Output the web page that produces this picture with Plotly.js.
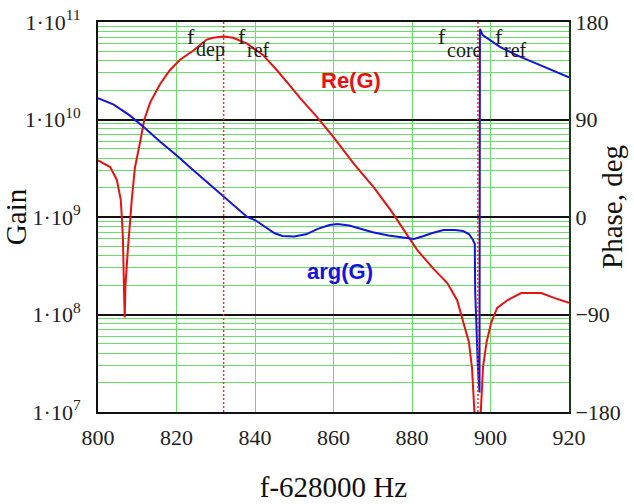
<!DOCTYPE html>
<html>
<head>
<meta charset="utf-8">
<script src="https://cdn.plot.ly/plotly-3.0.1.min.js"></script>
<style>html,body{margin:0;padding:0;background:#fff;}#chart{width:634px;height:504px;}</style>
</head>
<body>
<div id="chart"></div>
<script>
// Re(G) gain curve (left log axis)
const reFreq = [800, 803.1, 804.8, 805.8, 806.1, 806.35, 806.6, 806.8, 807.0, 807.3, 807.6, 808.6, 809.4, 810.7, 811.8, 813.3, 815.8, 818.3, 820.9, 824.3, 827.7, 829.3, 832, 834.4, 838, 842, 845.6, 849, 851.5, 855.7, 860, 865.2, 870.3, 874.6, 878, 881.3, 885.6, 889, 891.5, 893.2, 894.5, 895.3, 895.9, 896.6, 897.4, 898.1, 899, 900.2, 901.7, 904.3, 907.8, 912.9, 916.2, 920];
const reGain = [3.8e9, 3.25e9, 2.4e9, 1.5e9, 9.5e8, 6.0e8, 2.0e8, 9.3e7, 2.0e8, 3.2e8, 4.6e8, 1.5e9, 3.2e9, 5.8e9, 1.0e10, 1.5e10, 2.3e10, 3.2e10, 4.1e10, 5.1e10, 6.6e10, 6.9e10, 7.1e10, 6.9e10, 6.0e10, 4.6e10, 3.2e10, 2.2e10, 1.66e10, 1.07e10, 6.6e9, 3.5e9, 2.0e9, 1.17e9, 7.4e8, 4.6e8, 2.9e8, 2.1e8, 1.4e8, 8.1e7, 5.2e7, 2.8e7, 1.0e7, 3.0e6, 8e6, 2.9e7, 5.2e7, 8.3e7, 1.17e8, 1.4e8, 1.66e8, 1.66e8, 1.48e8, 1.32e8];

// arg(G) phase curve (right axis, degrees)
const argFreq = [800, 804, 808, 812, 816, 820, 824, 828, 832, 836, 838, 840, 842, 845, 847, 850, 853, 856, 859, 861, 864, 867, 870, 874, 878, 880.5, 883, 885, 888, 891, 893, 894.5, 895.5, 896.0, 896.1, 896.4, 896.8, 897.2, 897.3, 898, 899.9, 902.4, 907.5, 913.4, 920];
const argPhase = [109.6, 103.8, 94, 82, 69, 57, 44, 31.4, 18.5, 6.5, 0, -2.8, -8, -15, -17.5, -18, -16, -11, -7.4, -6.5, -7.8, -11, -14, -17, -19.4, -20.3, -17.5, -15, -12, -12, -13, -15.7, -21, -25, -69, -100, -140, -162, 173.5, 168, 163.4, 157, 148, 138.7, 129];

// reference frequencies (dotted markers)
const markerFreqs = [832, 896.8];

// tick labels
const gainTicks = [1e7, 1e8, 1e9, 1e10, 1e11];
const gainTickText = ['1·10<sup>7</sup>', '1·10<sup>8</sup>', '1·10<sup>9</sup>', '1·10<sup>10</sup>', '1·10<sup>11</sup>'];
const phaseTicks = [-180, -90, 0, 90, 180];
const phaseTickText = ['−180', '−90', '0', '90', '180'];
const freqTicks = [800, 820, 840, 860, 880, 900, 920];

const serif = 'Liberation Serif';
const sans = 'Liberation Sans';
const green = '#66e066';

const W = 634, H = 504, L = 98, R = 569, T = 22, B = 412;
const px = x => (x - L) / (R - L);
const py = y => (B - y) / (B - T);

const traces = [
  {x: reFreq, y: reGain, type: 'scatter', mode: 'lines', line: {color: 'rgb(232,18,18)', width: 2}, yaxis: 'y', hoverinfo: 'skip'},
  {x: argFreq, y: argPhase, type: 'scatter', mode: 'lines', line: {color: 'rgb(20,20,225)', width: 2}, yaxis: 'y2', hoverinfo: 'skip'}
];

const labelDefs = [
  {t: 'f', x: 185, y: 37, s: 22}, {t: 'dep', x: 194, y: 50, s: 20},
  {t: 'f', x: 236, y: 37, s: 22}, {t: 'ref', x: 245, y: 50, s: 20},
  {t: 'f', x: 436, y: 37, s: 22}, {t: 'core', x: 445, y: 50, s: 20},
  {t: 'f', x: 493, y: 37, s: 22}, {t: 'ref', x: 502, y: 50, s: 20}
];
const annotations = labelDefs.map(d => ({
  text: d.t, xref: 'paper', yref: 'paper', x: px(d.x), y: py(d.y),
  xanchor: 'left', yanchor: 'middle', showarrow: false,
  font: {family: serif, size: d.s, color: '#1a1a1a'}
}));
annotations.push({text: '<b>Re(G)</b>', xref: 'paper', yref: 'paper', x: px(351), y: py(80), xanchor: 'center', yanchor: 'middle', showarrow: false, font: {family: sans, size: 22, color: 'rgb(232,18,18)'}});
annotations.push({text: '<b>arg(G)</b>', xref: 'paper', yref: 'paper', x: px(340), y: py(271), xanchor: 'center', yanchor: 'middle', showarrow: false, font: {family: sans, size: 22, color: 'rgb(20,20,225)'}});
// right axis title
annotations.push({text: 'Phase, deg', xref: 'paper', yref: 'paper', x: px(612), y: py(207), xanchor: 'center', yanchor: 'middle', textangle: -90, showarrow: false, font: {family: serif, size: 29, color: '#111'}});

const shapes = markerFreqs.map(f => ({
  type: 'line', xref: 'x', yref: 'paper', x0: f, x1: f, y0: 0, y1: 1,
  line: {color: 'rgb(255,40,40)', width: 1.5, dash: '2px,2px'}, layer: 'above'
}));

const layout = {
  width: W, height: H,
  margin: {l: L, r: W - R, t: T, b: H - B, pad: 0},
  paper_bgcolor: '#fff', plot_bgcolor: '#fff',
  showlegend: false,
  font: {family: serif, size: 21, color: '#222'},
  xaxis: {
    range: [800, 920], tickvals: freqTicks, ticktext: freqTicks.map(String),
    showgrid: true, gridcolor: green, gridwidth: 1,
    zeroline: false, showline: true, linecolor: '#111', linewidth: 2, mirror: true,
    ticks: 'outside', ticklen: 5, tickcolor: 'rgba(0,0,0,0)',
    tickfont: {family: serif, size: 22, color: '#222'},
    title: {text: 'f-628000 Hz', font: {family: serif, size: 29, color: '#111'}, standoff: 27}
  },
  yaxis: {
    type: 'log', range: [7, 11], tickvals: gainTicks, ticktext: gainTickText,
    showgrid: true, gridcolor: '#111', gridwidth: 2,
    minor: {dtick: 'D1', showgrid: true, gridcolor: green, gridwidth: 1, ticks: ''},
    zeroline: false, showline: true, linecolor: '#111', linewidth: 2, mirror: false,
    ticks: 'outside', ticklen: 11, tickcolor: 'rgba(0,0,0,0)',
    tickfont: {family: serif, size: 22, color: '#222'},
    title: {text: 'Gain', font: {family: serif, size: 29, color: '#111'}, standoff: 0}
  },
  yaxis2: {
    overlaying: 'y', side: 'right', range: [-180, 180],
    tickvals: phaseTicks, ticktext: phaseTickText,
    showgrid: false, zeroline: false, showline: true, linecolor: '#1a3a1a', linewidth: 2,
    ticks: '',
    tickfont: {family: serif, size: 22, color: '#222'}
  },
  annotations: annotations,
  shapes: shapes
};

Plotly.newPlot('chart', traces, layout, {staticPlot: true, displayModeBar: false});
</script>
</body>
</html>
